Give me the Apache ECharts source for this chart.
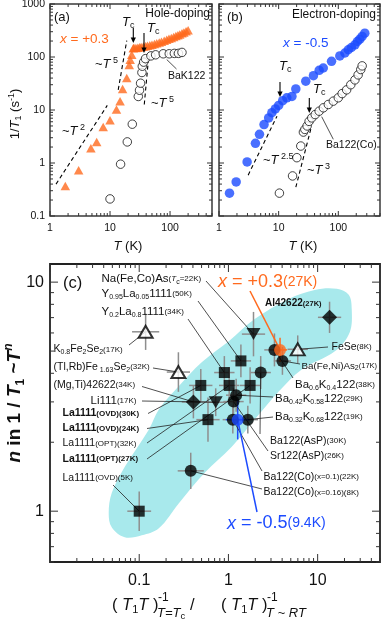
<!DOCTYPE html>
<html>
<head>
<meta charset="utf-8">
<title>1/T1 and n</title>
<script src="https://cdn.jsdelivr.net/npm/echarts@6.0.0/dist/echarts.min.js"></script>
<style>
  html, body { margin: 0; padding: 0; background: #fff; }
  #main { width: 381px; height: 620px; }
</style>
</head>
<body>
<div id="main"></div>
<script>
// (a) hole doping, x = +0.3 and BaK122
var holeT = [1.8, 3.0, 4.8, 6.0, 7.7, 10, 12.8, 14.7, 16.2, 19, 20.9, 21.7, 23, 24.4,
  25, 27, 29, 31, 33, 36, 39, 42, 46, 50, 55, 60, 66, 72, 80, 88, 96, 105, 115, 125, 135, 145, 158, 170, 185, 200];
var holeRate = [0.37, 0.73, 1.9, 2.5, 4.8, 6.4, 10.2, 14.6, 25, 40, 71, 89, 110, 147,
  150, 148, 150, 152, 155, 158, 160, 163, 166, 170, 176, 182, 188, 195, 203, 212, 220, 228, 238, 248, 258, 267, 280, 290, 305, 320];
var bakT = [10, 15, 19.4, 23.5, 29.6, 31, 32.3, 34, 34.5, 36.3, 39, 48, 57.5, 77, 97, 118, 138, 158];
var bakRate = [0.21, 0.95, 2.5, 5.4, 18, 23.6, 32, 51, 67, 80, 93, 105, 110, 115, 115, 117, 117, 122];

// (b) electron doping, x = -0.5 and Ba122(Co)
var elecT = [1.5, 1.94, 2.96, 4.08, 4.77, 5.69, 6.8, 7.7, 8.8, 10, 11.7, 13.7, 16.7, 19.4, 28.5, 38.3, 47.8, 56, 77, 106,
  129, 147, 166, 190, 209, 230, 251, 278];
var elecRate = [0.27, 0.44, 1.05, 2.35, 3.47, 5.3, 7.1, 8.9, 10.5, 12.2, 15, 17, 18, 25, 35, 44.5, 56, 62, 83, 105,
  119, 137, 151, 170, 196, 217, 244, 282];
var coT = [10.3, 17.1, 20.2, 23.5, 26, 27.5, 30, 32.4, 35.9, 41, 47.8, 56.2, 68, 82.5, 100, 116, 138, 162, 190, 215, 238, 251];
var coRate = [0.27, 0.57, 1.26, 2.09, 3.83, 4.3, 5, 6.1, 7.1, 8.2, 9.5, 11, 12.7, 14.7, 17, 20.4, 24, 30, 37, 46, 58, 68];

// power-law guides (end points)
var guideT2 = [[1.26, 0.40], [9.0, 12.2]];
var guideT5a = [[13.7, 24], [19, 204]];
var guideT5b = [[37.2, 12.7], [43.6, 89]];
var guideT25 = [[3.08, 0.59], [9.38, 7.65]];
var guideT3 = [[19.4, 0.35], [35, 4.6]];

// (c) n vs (T1T)^-1 ratio
var ratio = [0.1, 0.49, 0.59, 1.02, 1.75, 0.90, 1.38, 3.28, 4.03, 2.30, 1.22, 1.14, 1.12, 1.65, 0.378,
  13.6, 0.405, 1.91, 0.72, 0.118, 0.275, 5.98, 3.79, 1.27];
var nExp = [1.0, 3.54, 2.51, 3.54, 3.54, 4.03, 4.53, 5.06, 4.53, 4.03, 3.21, 3.01, 2.51, 2.51, 1.50,
  7.02, 3.0, 5.93, 2.99, 6.07, 4.05, 5.09, 5.06, 2.51];
var kind = ['sq', 'sq', 'sq', 'sq', 'sq', 'sq', 'sq', 'ci', 'ci', 'ci', 'ci', 'ci', 'ci', 'ci', 'ci',
  'di', 'di', 'dt', 'dt', 'ot', 'ot', 'ot', 'or', 'bl'];
var xErr = [1.36, 1.35, 1.35, 1.3, 1.3, 1.3, 1.3, 1.3, 1.25, 1.3, 1.3, 1.3, 1.3, 1.3, 1.4,
  1.35, 1.35, 1.35, 1.3, 1.42, 1.35, 1.3, 1.2, 1.36];
var yErr = [1.22, 1.18, 1.25, 1.2, 1.2, 1.18, 1.18, 1.18, 1.15, 1.18, 1.18, 1.15, 1.15, 1.15, 1.2,
  1.17, 1.18, 1.25, 1.15, 1.2, 1.22, 1.15, 1.13, 1.22];

// shaded band in (c)
var bandX = [0.0455, 0.0492, 0.0687, 0.128, 0.166, 0.277, 0.502, 1.01, 1.97, 4.74, 9.27, 16.4, 22.3, 24.1, 22.9,
  15.6, 6.63, 3.66, 2.19, 1.09, 0.542, 0.277, 0.166, 0.107, 0.0687, 0.0492];
var bandY = [0.98, 1.2, 1.56, 2.27, 2.78, 3.51, 4.47, 5.52, 6.9, 8.45, 9.25, 9.35, 8.8, 7.64, 6.05,
  4.99, 4.16, 3.33, 2.64, 1.91, 1.47, 1.08, 0.842, 0.785, 0.769, 0.85];

// tick labels
var xTicksAB = [1, 10, 100];
var yTicksA = [0.1, 1, 10, 100, 1000];
var xTicksC = [0.1, 1, 10];
var yTicksC = [1, 10];

var FF = '"Liberation Sans", Arial, Helvetica, sans-serif';
var ORANGE = '#ff6a1e';
var BLUE = '#1c4bff';
var CYAN = '#a8e9ec';

function st(size, o) {
  o = o || {};
  var s = {
    fontSize: size, fontFamily: FF,
    fontWeight: o.w || 'normal', fontStyle: o.i ? 'italic' : 'normal',
    fill: o.c || '#111', color: o.c || '#111',
    lineHeight: o.lh || Math.round(size * 1.25)
  };
  if (o.va) s.verticalAlign = o.va;
  return s;
}

var RICH = {
  a: st(10.5), c: st(11.5), A: st(11.5), k: st(10.5, {w: 'bold'}), k2: st(10, {w: 'bold'}), a9: st(9.8),
  s: st(8), sb: st(8, {w: 'bold'}), si: st(8, {i: true}), s7: st(7.5, {w: 'bold'}), s75: st(7.5),
  u: st(7, {va: 'bottom', lh: 5}), U: st(7, {va: 'bottom', lh: 5}),
  // panels a/b
  t: st(13), ti: st(13, {i: true}), tp: st(9, {va: 'top', lh: 8}), tu: st(9, {va: 'bottom', lh: 6}),
  m: st(12), m13: st(13), n: st(10.5),
  ox: st(13.5, {i: true, c: ORANGE}), oo: st(13.5, {c: ORANGE}),
  bx: st(13.5, {i: true, c: BLUE}), bb: st(13.5, {c: BLUE}),
  // panel c big labels
  Ox: st(18, {i: true, c: ORANGE}), Oo: st(18, {c: ORANGE}), Os: st(14, {c: ORANGE}),
  Bx: st(18, {i: true, c: BLUE}), Bo: st(18, {c: BLUE}), Bs: st(14, {c: BLUE}),
  // axis titles
  h: st(16.5), hi: st(16.5, {i: true}), hs: st(11, {va: 'bottom', lh: 6}),
  q: st(13, {i: true}), qn: st(12), qs: st(9.5, {va: 'bottom', lh: 6}),
  yb: st(19, {w: 'bold'}), yi: st(19, {w: 'bold', i: true}),
  yu: st(12, {w: 'bold', va: 'bottom', lh: 8}), yp: st(12, {w: 'bold', i: true, va: 'top', lh: 10})
};

function text(x, y, str, o) {
  o = o || {};
  return {
    type: 'text', x: x, y: y, rotation: o.rot || 0, z: 20, silent: true,
    style: {
      text: str, rich: RICH, fontFamily: FF, fontSize: 11, fill: '#111',
      align: o.align || 'left', textAlign: o.align || 'left',
      verticalAlign: 'middle', textVerticalAlign: 'middle'
    }
  };
}
function seg(x1, y1, x2, y2, color, w) {
  return {type: 'line', z: 20, silent: true, shape: {x1: x1, y1: y1, x2: x2, y2: y2},
    style: {stroke: color || '#222', lineWidth: w || 0.8}};
}
function arrow(x, y1, y2) {
  return [seg(x, y1, x, y2 - 4, '#000', 1.1),
    {type: 'polygon', z: 20, silent: true, shape: {points: [[x - 2.6, y2 - 5.5], [x + 2.6, y2 - 5.5], [x, y2]]}, style: {fill: '#000'}}];
}

function logSteps(lo, hi) {
  var out = [];
  for (var e = Math.floor(Math.log10(lo)); e <= Math.ceil(Math.log10(hi)); e++) {
    for (var m = 1; m <= 9; m++) {
      var v = m * Math.pow(10, e);
      if (v >= lo * 0.9999 && v <= hi * 1.0001) out.push([v, m === 1]);
    }
  }
  return out;
}

function tickSeries(k, xr, yr, o) {
  return {
    type: 'custom', xAxisIndex: k, yAxisIndex: k, z: 8, silent: true, clip: false,
    data: [[xr[0], yr[0]]],
    renderItem: function (params, api) {
      var kids = [];
      function ln(a, b, c, d) {
        kids.push({type: 'line', shape: {x1: a, y1: b, x2: c, y2: d}, style: {stroke: '#333', lineWidth: 1}});
      }
      logSteps(xr[0], xr[1]).forEach(function (t) {
        var len = t[1] ? o.major : o.minor;
        var b = api.coord([t[0], yr[0]]), u = api.coord([t[0], yr[1]]);
        ln(b[0], b[1], b[0], b[1] - len);
        ln(u[0], u[1], u[0], u[1] + len);
      });
      logSteps(yr[0], yr[1]).forEach(function (t) {
        var len = t[1] ? o.major : o.minor;
        var l = api.coord([xr[0], t[0]]), r = api.coord([xr[1], t[0]]);
        ln(l[0], l[1], l[0] + len, l[1]);
        ln(r[0], r[1], r[0] - len, r[1]);
      });
      (o.xLabels || []).forEach(function (v) {
        var p = api.coord([v, yr[0]]);
        kids.push({type: 'text', x: p[0], y: p[1] + o.xGap, style: {text: String(v), fontSize: o.fs, fontFamily: FF,
          fill: '#111', align: 'center', textAlign: 'center', verticalAlign: 'middle', textVerticalAlign: 'middle'}});
      });
      (o.yLabels || []).forEach(function (v) {
        var p = api.coord([xr[0], v]);
        kids.push({type: 'text', x: p[0] - o.yGap, y: p[1], style: {text: String(v), fontSize: o.fs, fontFamily: FF,
          fill: '#111', align: 'right', textAlign: 'right', verticalAlign: 'middle', textVerticalAlign: 'middle'}});
      });
      return {type: 'group', children: kids};
    }
  };
}

function zip(a, b) { return a.map(function (v, i) { return [v, b[i]]; }); }
function guide(k, pts) {
  return {type: 'line', xAxisIndex: k, yAxisIndex: k, data: pts, symbol: 'none', silent: true, z: 3,
    lineStyle: {color: '#000', width: 1.1, type: [4, 3]}};
}

// panel c marker subsets
function pick(kd) {
  var out = [];
  ratio.forEach(function (x, i) { if (kind[i] === kd) out.push([x, nExp[i]]); });
  return out;
}

// labels in (c): [x, y, rich text, point index for leader or -1, leader anchor x, y, leader colour]
var labelsC = [
  [101.5, 278.5, '{c|Na(Fe,Co)As}{s|(}{si|T}{u|c}{s|=22K)}', 17, 206, 281, '#222'],
  [101.5, 294, '{c|Y}{u|0.95}{c|La}{u|0.05}{c|1111}{s|(50K)}', 6, 198, 301, '#222'],
  [101.5, 312, '{c|Y}{u|0.2}{c|La}{u|0.8}{c|1111}{s|(34K)}', 5, 188, 319, '#222'],
  [53.5, 349.5, '{a|K}{u|0.8}{a|Fe}{u|2}{a|Se}{u|2}{s|(17K)}', 19, 129, 345, '#222'],
  [53.5, 367, '{a|(Tl,Rb)Fe}{u| 1.63}{a|Se}{u|2}{s|(32K)}', 20, 153, 368, '#222'],
  [53.5, 385, '{a|(Mg,Ti)42622}{s|(34K)}', 16, 142, 386.5, '#222'],
  [90.5, 401, '{c|Li111}{s|(17K)}', 18, 142, 401, '#222'],
  [62.5, 413.5, '{k|La1111}{sb|(OVD)(30K)}', 1, 148, 413.5, '#222'],
  [62.5, 428.5, '{k|La1111}{sb|(OVD)(24K)}', 2, 147, 428.5, '#222'],
  [62.5, 443.5, '{a|La1111}{s|(OPT)(32K)}', 3, 147, 443, '#222'],
  [62.5, 459, '{k|La1111}{sb|(OPT)(27K)}', 4, 147, 459, '#222'],
  [62.5, 478, '{a|La1111}{s|(OVD)(5K)}', 0, 113, 485, '#222'],
  [218, 282, '{Ox|x}{Oo| = +0.3}{Os|(27K)}', 22, 250, 291, ORANGE],
  [265, 303.5, '{k2|Al42622}{s7|(27K)}', -1],
  [331.5, 347, '{a|FeSe}{s|(8K)}', 21, 328, 347, '#222'],
  [301.5, 366, '{a9|Ba(Fe,Ni)As}{u|2}{s75|(17K)}', 8, 300, 364, '#222'],
  [295, 384.5, '{A|Ba}{U|0.6}{A|K}{U|0.4}{A|122}{s|(38K)}', 7, 293, 378, '#222'],
  [275, 398.5, '{A|Ba}{U|0.42}{A|K}{U|0.58}{A|122}{s|(29K)}', 10, 273, 397, '#222'],
  [275, 417, '{A|Ba}{U|0.32}{A|K}{U|0.68}{A|122}{s|(19K)}', 13, 273, 417, '#222'],
  [270, 441, '{a|Ba122(AsP)}{s|(30K)}', 9, 260, 434, '#222'],
  [270, 456, '{a|Sr122(AsP)}{s|(26K)}', 11, 268, 451, '#222'],
  [263.5, 477, '{a|Ba122(Co)}{s|(x=0.1)(22K)}', 12, 262, 471, '#222'],
  [263.5, 492.5, '{a|Ba122(Co)}{s|(x=0.16)(8K)}', 14, 262, 489, '#222'],
  [227, 523.5, '{Bx|x}{Bo| = -0.5}{Bs|(9.4K)}', 23, 257, 512, BLUE]
];
var leaders = labelsC.filter(function (l) { return l[3] >= 0; });

var graphics = [];
// panel (a)
graphics.push(text(54, 17, '{m13|(a)}'));
graphics.push(text(210, 14, '{m|Hole-doping}', {align: 'right'}));
graphics.push(text(60, 39, '{ox|x}{oo| = +0.3}'));
graphics.push(text(122, 22, '{ti|T}{tu|c}'));
graphics.push(text(147, 28, '{ti|T}{tu|c}'));
graphics = graphics.concat(arrow(133.3, 28, 43), arrow(144, 33, 53));
graphics.push(text(95, 64, '{t|~}{ti|T}{tp| 5}'));
graphics.push(text(62, 131, '{t|~}{ti|T}{tp| 2}'));
graphics.push(text(151, 103, '{t|~}{ti|T}{tp| 5}'));
graphics.push(text(168, 76, '{n|BaK122}'));
graphics.push(seg(166.7, 59.5, 176.5, 69));
// panel (b)
graphics.push(text(227, 17, '{m13|(b)}'));
graphics.push(text(376, 15, '{m|Electron-doping}', {align: 'right'}));
graphics.push(text(283, 43, '{bx|x}{bb| = -0.5}'));
graphics.push(text(279, 66, '{ti|T}{tu|c}'));
graphics.push(text(313, 89, '{ti|T}{tu|c}'));
graphics = graphics.concat(arrow(280, 82, 97), arrow(309.3, 98, 113));
graphics.push(text(263, 160, '{t|~}{ti|T}{tp| 2.5}'));
graphics.push(text(307, 170, '{t|~}{ti|T}{tp| 3}'));
graphics.push(text(326, 145, '{n|Ba122(Co)}'));
graphics.push(seg(321.7, 116.7, 333.3, 139.3));
// axis titles a/b
graphics.push(text(128, 246, '{ti|T}{t| (K)}', {align: 'center'}));
graphics.push(text(303, 246, '{ti|T}{t| (K)}', {align: 'center'}));
graphics.push(text(15, 114, '{t|1/}{ti|T}{tu|1}{t| (s}{tp|-1}{t|)}', {align: 'center', rot: Math.PI / 2}));
// panel (c)
graphics.push(text(63, 283.5, '{h|(c)}'));
labelsC.forEach(function (l) { graphics.push(text(l[0], l[1], l[2])); });
graphics.push(text(15, 403, '{yi|n}{yb| in 1 / }{yi|T}{yu|1}{yb| ~}{yi|T}{yp|n}', {align: 'center', rot: Math.PI / 2}));
graphics.push(text(112, 605, '{h|( }{hi|T}{hs|1}{hi|T}{h| )}'));
graphics.push(text(158, 598, '{qn|-1}'));
graphics.push(text(157, 613, '{q|T=T}{qs|c}'));
graphics.push(text(190, 605, '{h|/}'));
graphics.push(text(221, 605, '{h|( }{hi|T}{hs|1}{hi|T}{h| )}'));
graphics.push(text(267, 598, '{qn|-1}'));
graphics.push(text(266, 613, '{q|T ~ RT}'));

var option = {
  animation: false,
  backgroundColor: '#fff',
  grid: [
    {left: 50, top: 4, width: 162, height: 212, show: true, borderColor: '#3a3a3a', borderWidth: 1.5},
    {left: 219, top: 4, width: 161, height: 212, show: true, borderColor: '#3a3a3a', borderWidth: 1.5},
    {left: 50, top: 264, width: 330, height: 298, show: true, borderColor: '#222', borderWidth: 1.8}
  ],
  xAxis: [
    {type: 'log', gridIndex: 0, min: 1, max: 500, show: false},
    {type: 'log', gridIndex: 1, min: 1, max: 500, show: false},
    {type: 'log', gridIndex: 2, min: 0.01, max: 50, show: false}
  ],
  yAxis: [
    {type: 'log', gridIndex: 0, min: 0.1, max: 1000, show: false},
    {type: 'log', gridIndex: 1, min: 0.1, max: 1000, show: false},
    {type: 'log', gridIndex: 2, min: 0.6, max: 12, show: false}
  ],
  graphic: {elements: graphics},
  series: [
    // panel (a)
    guide(0, guideT2), guide(0, guideT5a), guide(0, guideT5b),
    {type: 'scatter', xAxisIndex: 0, yAxisIndex: 0, data: zip(bakT, bakRate), symbol: 'circle', symbolSize: 8.5, z: 4,
      itemStyle: {color: '#fff', borderColor: '#111', borderWidth: 1}},
    {type: 'scatter', xAxisIndex: 0, yAxisIndex: 0, data: zip(holeT, holeRate), symbol: 'triangle', symbolSize: [9.5, 8.5], z: 5,
      itemStyle: {color: ORANGE}},
    // panel (b)
    guide(1, guideT25), guide(1, guideT3),
    {type: 'scatter', xAxisIndex: 1, yAxisIndex: 1, data: zip(coT, coRate), symbol: 'circle', symbolSize: 8.5, z: 4,
      itemStyle: {color: '#fff', borderColor: '#111', borderWidth: 1}},
    {type: 'scatter', xAxisIndex: 1, yAxisIndex: 1, data: zip(elecT, elecRate), symbol: 'circle', symbolSize: 9.5, z: 5,
      itemStyle: {color: BLUE}},
    // panel (c) shaded band
    {type: 'custom', xAxisIndex: 2, yAxisIndex: 2, z: 1, silent: true, clip: false, data: [[bandX[0], bandY[0]]],
      renderItem: function (params, api) {
        var pts = bandX.map(function (x, i) { return api.coord([x, bandY[i]]); });
        return {type: 'polygon', shape: {points: pts, smooth: 0.35}, style: {fill: CYAN}};
      }},
    // error bars
    {type: 'custom', xAxisIndex: 2, yAxisIndex: 2, z: 2, silent: true, clip: false, data: zip(ratio, nExp),
      renderItem: function (params, api) {
        var i = params.dataIndex, x = api.value(0), y = api.value(1);
        var col = kind[i] === 'or' ? ORANGE : (kind[i] === 'bl' ? BLUE : '#8e8e8e');
        var a = api.coord([x / xErr[i], y]), b = api.coord([x * xErr[i], y]);
        var c = api.coord([x, y / yErr[i]]), d = api.coord([x, y * yErr[i]]);
        return {type: 'group', children: [
          {type: 'line', shape: {x1: a[0], y1: a[1], x2: b[0], y2: b[1]}, style: {stroke: col, lineWidth: 1.5}},
          {type: 'line', shape: {x1: c[0], y1: c[1], x2: d[0], y2: d[1]}, style: {stroke: col, lineWidth: 1.5}}
        ]};
      }},
    // leader lines
    {type: 'custom', xAxisIndex: 2, yAxisIndex: 2, z: 3, silent: true, clip: false,
      data: leaders.map(function (l) { return [ratio[l[3]], nExp[l[3]]]; }),
      renderItem: function (params, api) {
        var l = leaders[params.dataIndex];
        var p = api.coord([api.value(0), api.value(1)]);
        var coloured = l[6] !== '#222';
        return {type: 'line', shape: {x1: l[4], y1: l[5], x2: p[0], y2: p[1]},
          style: {stroke: l[6], lineWidth: coloured ? 1.5 : 0.8}};
      }},
    {type: 'scatter', xAxisIndex: 2, yAxisIndex: 2, data: pick('sq'), symbol: 'rect', symbolSize: 11, z: 5,
      itemStyle: {color: '#000'}},
    {type: 'scatter', xAxisIndex: 2, yAxisIndex: 2, data: pick('ci'), symbol: 'circle', symbolSize: 12, z: 5,
      itemStyle: {color: '#000'}},
    {type: 'scatter', xAxisIndex: 2, yAxisIndex: 2, data: pick('di'), symbol: 'diamond', symbolSize: 15, z: 5,
      itemStyle: {color: '#000'}},
    {type: 'scatter', xAxisIndex: 2, yAxisIndex: 2, data: pick('dt'), symbol: 'triangle', symbolRotate: 180, symbolSize: [14, 12], z: 5,
      itemStyle: {color: '#000'}},
    {type: 'scatter', xAxisIndex: 2, yAxisIndex: 2, data: pick('ot'), symbol: 'triangle', symbolSize: [14, 12], z: 5,
      itemStyle: {color: '#fff', borderColor: '#000', borderWidth: 2}},
    {type: 'scatter', xAxisIndex: 2, yAxisIndex: 2, data: pick('or'), symbol: 'circle', symbolSize: 12, z: 6,
      itemStyle: {color: ORANGE}},
    {type: 'scatter', xAxisIndex: 2, yAxisIndex: 2, data: pick('bl'), symbol: 'circle', symbolSize: 12, z: 6,
      itemStyle: {color: BLUE}},
    // ticks and tick labels
    tickSeries(0, [1, 500], [0.1, 1000], {major: 5, minor: 3, xLabels: xTicksAB, yLabels: yTicksA, xGap: 12, yGap: 5, fs: 10.5}),
    tickSeries(1, [1, 500], [0.1, 1000], {major: 5, minor: 3, xLabels: xTicksAB, xGap: 12, yGap: 5, fs: 10.5}),
    tickSeries(2, [0.01, 50], [0.6, 12], {major: 8, minor: 4, xLabels: xTicksC, yLabels: yTicksC, xGap: 19, yGap: 6, fs: 16})
  ]
};

var chart = echarts.init(document.getElementById('main'));
chart.setOption(option);
</script>
</body>
</html>
